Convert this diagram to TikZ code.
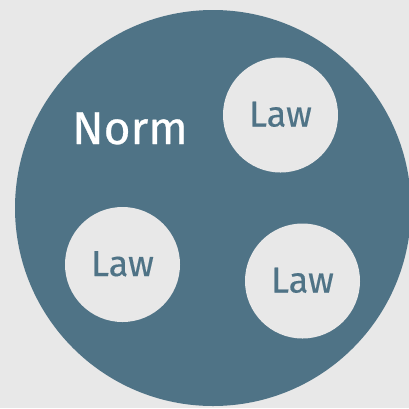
\documentclass[tikz,border=0pt]{standalone}
\usepackage{fontspec}
\setmainfont{Fira Sans}
\definecolor{normblue}{RGB}{79,115,134}
\definecolor{paper}{RGB}{232,232,232}
\begin{document}
\begin{tikzpicture}[x=1pt,y=-1pt,
  lawbubble/.style={circle,fill=paper,minimum size=115pt,inner sep=0pt},
  lawlabel/.style={text=normblue,inner sep=0pt,anchor=base,
    font=\fontsize{36}{36}\selectfont\addfontfeatures{FakeBold=0.3}},
  normlabel/.style={text=white,font=\fontsize{46}{46}\selectfont\addfontfeatures{FakeBold=0.6},inner sep=0pt}]
  % canvas
  \fill[paper] (0,0) rectangle (409,408);
  \useasboundingbox (0,0) rectangle (409,408);
  % the norm
  \node[circle,fill=normblue,minimum size=396pt,inner sep=0pt] (norm) at (213,208) {};
  \node[normlabel,anchor=base] (normtext) at (130,144) {Norm};
  % the laws inside it
  \node[lawbubble] (law1) at (280.5,115) {};
  \node[lawbubble] (law2) at (122.5,264.5) {};
  \node[lawbubble] (law3) at (302.5,281) {};
  \node[lawlabel] (law1text) at ([yshift=-11.5pt]law1.center) {Law};
  \node[lawlabel] (law2text) at ([yshift=-11.5pt]law2.center) {Law};
  \node[lawlabel] (law3text) at ([yshift=-11.5pt]law3.center) {Law};
\end{tikzpicture}
\end{document}
